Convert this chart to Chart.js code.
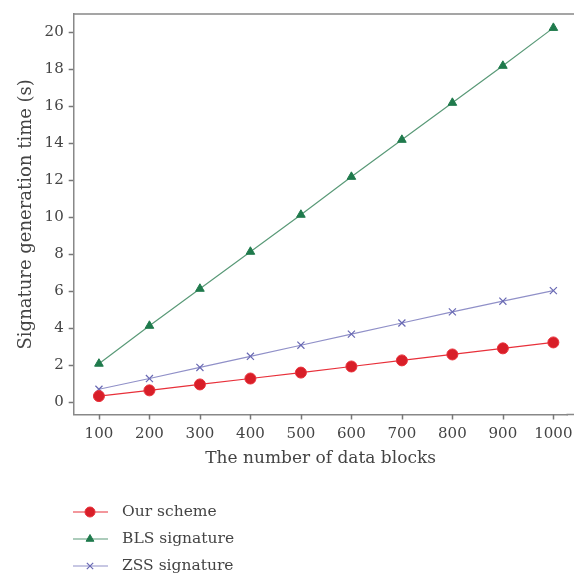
<!DOCTYPE html>
<html>
<head>
<meta charset="utf-8">
<script src="https://cdn.jsdelivr.net/npm/chart.js@4"></script>
<style>
  body { margin: 0; background: #fff; }
  #wrap { width: 574px; height: 577px; }
</style>
</head>
<body>
<div id="wrap"><canvas id="sigChart" width="574" height="577"></canvas></div>
<script>
// ===== data =====
const blocks = [100, 200, 300, 400, 500, 600, 700, 800, 900, 1000];
const ourScheme = [0.35, 0.66, 0.98, 1.3, 1.62, 1.95, 2.28, 2.6, 2.93, 3.25];
const blsSig = [2.1, 4.15, 6.15, 8.15, 10.15, 12.2, 14.2, 16.2, 18.2, 20.25];
const zssSig = [0.72, 1.3, 1.9, 2.5, 3.1, 3.7, 4.3, 4.9, 5.48, 6.05];
const yTicks = [0, 2, 4, 6, 8, 10, 12, 14, 16, 18, 20];
const seriesNames = ["Our scheme", "BLS signature", "ZSS signature"];

const serif = "'DejaVu Serif', 'Liberation Serif', serif";
const toPoints = (vals) => vals.map((v, i) => ({ x: blocks[i], y: v }));

// top frame line, short x tick marks, legend under the axis
const framePlugin = {
  id: "frame",
  afterDraw(chart) {
    const { ctx, chartArea } = chart;
    const xs = chart.scales.x;
    ctx.save();
    ctx.strokeStyle = "#888";
    ctx.lineWidth = 1.5;
    ctx.beginPath();
    ctx.moveTo(chartArea.left, chartArea.top);
    ctx.lineTo(chart.width, chartArea.top);
    // bottom axis runs on to the edge of the figure
    ctx.moveTo(chartArea.right - 1, chartArea.bottom);
    ctx.lineTo(chart.width, chartArea.bottom);
    ctx.stroke();

    // x tick marks (the library's own are hidden to keep the label gap)
    ctx.strokeStyle = "#777";
    ctx.beginPath();
    blocks.forEach(v => {
      const px = Math.round(xs.getPixelForValue(v)) + 0.5;
      ctx.moveTo(px, chartArea.bottom);
      ctx.lineTo(px, chartArea.bottom + 5);
    });
    ctx.stroke();

    // legend, one row per dataset
    const rowY = [512, 539, 566];
    chart.data.datasets.forEach((ds, i) => {
      const y = rowY[i];
      ctx.strokeStyle = ds.borderColor;
      ctx.lineWidth = 1.2;
      ctx.beginPath();
      ctx.moveTo(73, y);
      ctx.lineTo(108, y);
      ctx.stroke();
      ctx.fillStyle = ds.pointBackgroundColor;
      ctx.strokeStyle = ds.pointBorderColor;
      ctx.lineWidth = ds.pointBorderWidth;
      Chart.helpers.drawPoint(ctx, {
        pointStyle: ds.pointStyle,
        radius: ds.pointRadius - 0.5,
        borderWidth: ds.pointBorderWidth
      }, 90, y);
      ctx.fillStyle = "#444";
      ctx.font = "15.5px " + serif;
      ctx.textBaseline = "middle";
      ctx.fillText(ds.label, 122, y);
    });
    ctx.restore();
  }
};

const ctx = document.getElementById("sigChart");
new Chart(ctx.getContext("2d"), {
  type: "line",
  data: {
    datasets: [
      {
        label: seriesNames[0],
        data: toPoints(ourScheme),
        borderColor: "#e8303a",
        backgroundColor: "#d81e28",
        pointBackgroundColor: "#d81e28",
        pointBorderColor: "#e8303a",
        pointStyle: "circle",
        pointRadius: 5.5,
        pointBorderWidth: 1,
        borderWidth: 1.2
      },
      {
        label: seriesNames[1],
        data: toPoints(blsSig),
        borderColor: "#5a9a78",
        backgroundColor: "#1f7a4c",
        pointBackgroundColor: "#1f7a4c",
        pointBorderColor: "#1f7a4c",
        pointStyle: "triangle",
        pointRadius: 5,
        pointBorderWidth: 1,
        borderWidth: 1.2
      },
      {
        label: seriesNames[2],
        data: toPoints(zssSig),
        borderColor: "#9090c8",
        backgroundColor: "#7070b8",
        pointBackgroundColor: "#7070b8",
        pointBorderColor: "#6a6ab4",
        pointStyle: "crossRot",
        pointRadius: 5,
        pointBorderWidth: 1.2,
        borderWidth: 1.2
      }
    ]
  },
  options: {
    responsive: false,
    animation: false,
    layout: { padding: { top: 13, right: 0, bottom: 104, left: 12 } },
    plugins: {
      legend: { display: false },
      tooltip: { enabled: false }
    },
    scales: {
      x: {
        type: "linear",
        min: 50,
        max: 1028,
        afterBuildTicks: (s) => { s.ticks = blocks.map(v => ({ value: v })); },
        grid: { drawOnChartArea: false, tickLength: 11, tickColor: "rgba(0,0,0,0)" },
        border: { color: "#888", width: 1.5 },
        ticks: { color: "#444", font: { family: serif, size: 15 }, padding: 0, maxRotation: 0, callback: (v) => String(v) },
        title: { display: true, text: "The number of data blocks", color: "#444", font: { family: serif, size: 17 }, padding: { top: 5 } }
      },
      y: {
        min: -0.65,
        max: 21,
        afterBuildTicks: (s) => { s.ticks = yTicks.map(v => ({ value: v })); },
        grid: { drawOnChartArea: false, tickLength: 5, color: "#777", tickWidth: 1.5 },
        border: { color: "#888", width: 1.5 },
        ticks: { color: "#444", font: { family: serif, size: 15 }, padding: 5, callback: (v) => String(v) },
        title: { display: true, text: "Signature generation time (s)", color: "#444", font: { family: serif, size: 18 }, padding: { bottom: 2 } }
      }
    }
  },
  plugins: [framePlugin]
});
</script>
</body>
</html>
